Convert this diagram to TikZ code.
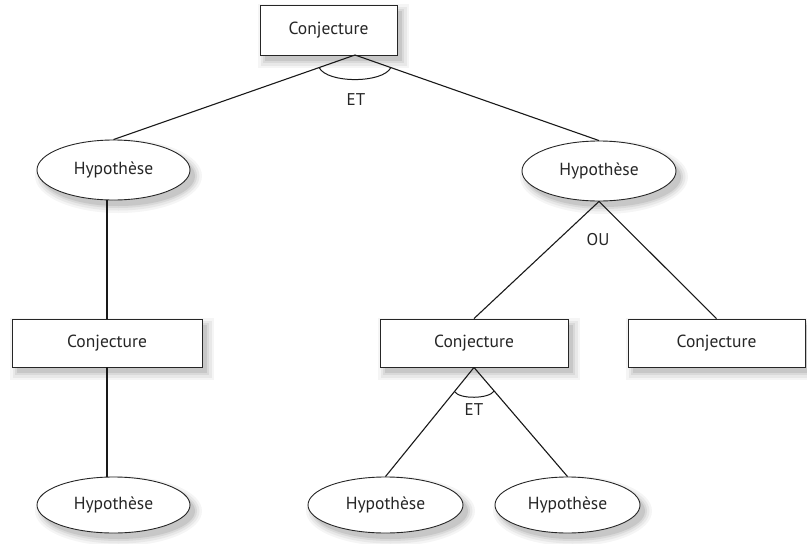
\documentclass[tikz,border=0pt]{standalone}
\usepackage{fontspec}
\setmainfont{PT Sans}
\usetikzlibrary{shapes.geometric,calc}
% a node with a soft grey shadow below and to the right of it:
% #1 style, #2 name, #3 position, #4 width, #5 height, #6 text
\newcommand{\shadednode}[6]{%
  \node[#1,draw=none,fill=black!4,minimum width=#4+14pt,minimum height=#5+14pt] (#2s1) at ([shift={(5pt,-6pt)}]#3) {};
  \node[#1,draw=none,fill=black!9,minimum width=#4+9pt,minimum height=#5+9pt] (#2s2) at ([shift={(5pt,-6pt)}]#3) {};
  \node[#1,draw=none,fill=black!15,minimum width=#4+4pt,minimum height=#5+4pt] (#2s3) at ([shift={(5pt,-6pt)}]#3) {};
  \node[#1,draw=none,fill=black!22,minimum width=#4,minimum height=#5] (#2s4) at ([shift={(5pt,-6pt)}]#3) {};
  \node[#1,minimum width=#4,minimum height=#5] (#2) at (#3) {#6};}
\begin{document}
\begin{tikzpicture}[x=1pt,y=-1pt,
  conj/.style={draw=black!85,line width=0.9pt,fill=white,rectangle,inner sep=0pt,
               font=\fontsize{17.5}{20}\selectfont,text=black!85},
  hyp/.style={draw=black!85,line width=0.9pt,fill=white,ellipse,inner sep=0pt,
              font=\fontsize{17.5}{20}\selectfont,text=black!85},
  link/.style={draw=black!90,line width=1.1pt},
  lbl/.style={font=\fontsize{17}{20}\selectfont,text=black!85,inner sep=0pt}]
\useasboundingbox (0,0) rectangle (807,544);

% conjectures
\shadednode{conj}{c0}{328.5,30}{137pt}{50pt}{Conjecture}
\shadednode{conj}{c1}{107,343}{190pt}{48pt}{Conjecture}
\shadednode{conj}{c2}{474,343}{188pt}{48pt}{Conjecture}
\shadednode{conj}{c3}{716.5,343}{177pt}{48pt}{Conjecture}

% hypotheses
\shadednode{hyp}{h1}{113.5,170}{153pt}{60pt}{Hypothèse}
\shadednode{hyp}{h2}{599,171}{154pt}{60pt}{Hypothèse}
\shadednode{hyp}{h3}{113.5,505}{153pt}{56pt}{Hypothèse}
\shadednode{hyp}{h4}{385.5,505}{155pt}{56pt}{Hypothèse}
\shadednode{hyp}{h5}{567.5,505}{145pt}{56pt}{Hypothèse}

% apex points
\coordinate (a0) at (355,55);
\coordinate (a2) at (c2.south);

% connectors
\draw[link] (a0) -- (h1.north);
\draw[link] (a0) -- (h2.north);
\draw[link] (h1.south -| c1.north) -- (c1.north);
\draw[link] (c1.south) -- (c1.south |- h3.north);
\draw[link] (h2.south) -- (c2.north);
\draw[link] (h2.south) -- (c3.north);
\draw[link] (a2) -- (h4.north);
\draw[link] (a2) -- (h5.north);

% conjunction arcs
\draw[link,line width=1pt] ($(a0)!38pt!(h1.north)$) .. controls +(8,16) and +(-8,16) .. ($(a0)!38pt!(h2.north)$);
\draw[link,line width=1pt] ($(a2)!31pt!(h4.north)$) .. controls +(5,8) and +(-5,8) .. ($(a2)!31pt!(h5.north)$);

% labels
\node[lbl] (et0) at (356,100) {ET};
\node[lbl] (ou) at (598,240) {OU};
\node[lbl] (et2) at (474,410) {ET};
\end{tikzpicture}
\end{document}
